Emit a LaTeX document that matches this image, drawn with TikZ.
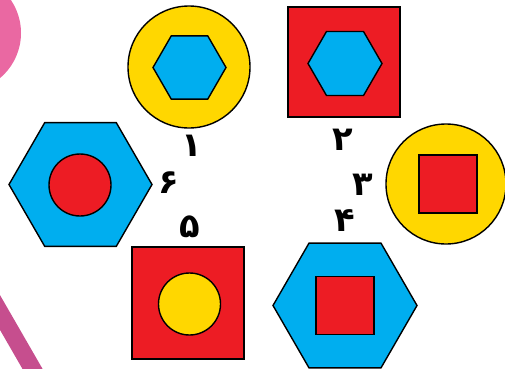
\documentclass[tikz,border=0pt]{standalone}
\usepackage{fontspec}
\usepackage{xcolor}
\usetikzlibrary{shapes.geometric}
\newfontfamily\fanum[Script=Arabic]{DejaVu Sans}

\definecolor{hexblue}{RGB}{0,174,239}
\definecolor{shred}{RGB}{237,28,36}
\definecolor{shyellow}{RGB}{255,215,0}
\definecolor{toypink}{RGB}{234,104,162}
\definecolor{stickpink}{RGB}{198,78,142}

\begin{document}
\begin{tikzpicture}[x=0.5mm,y=-0.5mm,
 hexa/.style={regular polygon,regular polygon sides=6,draw,line width=.7mm,fill=hexblue,inner sep=0pt,outer sep=0pt},
 disc/.style={circle,draw,line width=.7mm,inner sep=0pt,outer sep=0pt},
 sq/.style={rectangle,draw,line width=.7mm,fill=shred,inner sep=0pt,outer sep=0pt},
 num/.style={font=\fanum\bfseries\fontsize{48}{48}\selectfont,inner sep=0pt}]
\useasboundingbox (0,0) rectangle (505,368);
\begin{scope}
\clip (0,0) rectangle (505,368);
% pink toy pieces at the left edge
\fill[toypink] (-38,33) circle (59);
\draw[stickpink,line width=8.7mm] (-12,291.7) -- (38.4,379.1);
\end{scope}

% 1
\node[disc,fill=shyellow,minimum size=61mm] (c1) at (189,67) {};
\node[hexa,minimum size=36.5mm] (h1) at (189.5,67.5) {};
% 2
\node[sq,minimum width=56mm,minimum height=55mm] (s2) at (344,62) {};
\node[hexa,minimum size=37mm] (h2) at (345,63.5) {};
% 3
\node[disc,fill=shyellow,minimum size=60mm] (c3) at (446,184) {};
\node[sq,minimum size=29mm] (s3) at (448,184) {};
% 4
\node[hexa,minimum size=72mm] (h4) at (345,305.5) {};
\node[sq,minimum size=29mm] (s4) at (345,305.5) {};
% 5
\node[sq,minimum size=56mm] (s5) at (188,303) {};
\node[disc,fill=shyellow,minimum size=31mm] (c5) at (189.5,304) {};
% 6
\node[hexa,minimum size=71.5mm] (h6) at (80.5,184.5) {};
\node[disc,fill=shred,minimum size=31mm] (c6) at (80,185) {};

% numbers
\node[num] (n1) at (192,146) {۱};
\node[num] (n2) at (343,140) {۲};
\node[num] (n3) at (363,185) {۳};
\node[num] (n4) at (345,221) {۴};
\node[num] (n5) at (190,227) {۵};
\node[num] (n6) at (169,183) {۶};
\end{tikzpicture}
\end{document}
